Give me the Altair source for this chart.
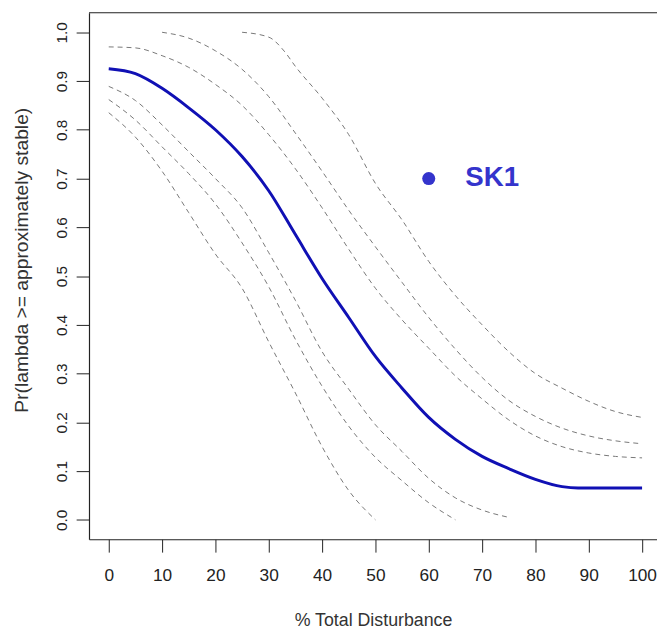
import altair as alt
import pandas as pd

# ---- data ----
mean_x = [0, 5, 10, 15, 20, 25, 30, 35, 40, 45, 50, 55, 60, 65, 70, 75, 80, 85, 88, 90, 95, 100]
mean_y = [0.925, 0.915, 0.885, 0.845, 0.80, 0.745, 0.675, 0.585, 0.495, 0.415, 0.335, 0.27, 0.21,
          0.165, 0.13, 0.105, 0.083, 0.068, 0.065, 0.065, 0.065, 0.065]

up1_x = [0, 5, 10, 15, 20, 25, 30, 35, 40, 45, 50, 55, 60, 65, 70, 75, 80, 85, 90, 95, 100]
up1_y = [0.97, 0.968, 0.952, 0.928, 0.893, 0.85, 0.79, 0.72, 0.64, 0.555, 0.475, 0.41, 0.352,
         0.295, 0.248, 0.205, 0.172, 0.15, 0.137, 0.13, 0.127]

up2_x = [10, 15, 20, 25, 30, 35, 40, 45, 50, 55, 60, 65, 70, 75, 80, 85, 90, 95, 100]
up2_y = [1.0, 0.988, 0.962, 0.924, 0.868, 0.793, 0.715, 0.635, 0.56, 0.487, 0.415, 0.35, 0.292,
         0.245, 0.212, 0.188, 0.172, 0.162, 0.156]

up3_x = [25, 30, 33, 35, 40, 45, 50, 55, 60, 65, 70, 75, 80, 85, 90, 95, 100]
up3_y = [1.0, 0.99, 0.96, 0.93, 0.865, 0.79, 0.69, 0.615, 0.53, 0.46, 0.4, 0.345, 0.3, 0.27,
         0.243, 0.222, 0.21]

lo1_x = [0, 5, 10, 15, 20, 25, 30, 35, 40, 45, 50, 55, 60, 65, 70, 75]
lo1_y = [0.889, 0.86, 0.81, 0.755, 0.70, 0.64, 0.548, 0.45, 0.345, 0.268, 0.195, 0.14, 0.085,
         0.045, 0.02, 0.005]

lo2_x = [0, 5, 10, 15, 20, 25, 30, 35, 40, 45, 50, 55, 60, 65]
lo2_y = [0.862, 0.82, 0.765, 0.71, 0.648, 0.568, 0.478, 0.37, 0.274, 0.192, 0.128, 0.08, 0.035, 0.0]

lo3_x = [0, 5, 10, 15, 20, 25, 30, 35, 40, 45, 50]
lo3_y = [0.835, 0.785, 0.715, 0.63, 0.545, 0.475, 0.365, 0.26, 0.15, 0.06, 0.0]

point_x = [60]
point_y = [0.70]
point_label = ["SK1"]

x_ticks = [0, 10, 20, 30, 40, 50, 60, 70, 80, 90, 100]
y_ticks = [0.0, 0.1, 0.2, 0.3, 0.4, 0.5, 0.6, 0.7, 0.8, 0.9, 1.0]

# ---- tables ----
def frame(name, xs, ys):
    return pd.DataFrame({"x": xs, "y": ys, "series": name})

dashed = pd.concat([
    frame("up1", up1_x, up1_y), frame("up2", up2_x, up2_y), frame("up3", up3_x, up3_y),
    frame("lo1", lo1_x, lo1_y), frame("lo2", lo2_x, lo2_y), frame("lo3", lo3_x, lo3_y),
])
mean_df = frame("mean", mean_x, mean_y)
pt_df = pd.DataFrame({"x": point_x, "y": point_y, "label": point_label})

W, H = 575, 533
xs = alt.Scale(domain=[-3.7, 102.8], nice=False, zero=False)
ys = alt.Scale(domain=[-0.04, 1.04], nice=False, zero=False)

FONT = "Liberation Sans"

x_axis = alt.Axis(
    values=x_ticks, title="% Total Disturbance", grid=False,
    tickSize=13, tickColor="#222", domainColor="#222", domainWidth=1.2,
    labelFont=FONT, labelFontSize=17.5, labelColor="#222", labelPadding=15,
    labelBaseline="top", format="d",
    titleFont=FONT, titleFontSize=18, titleFontWeight="normal", titleColor="#333",
    titleX=W / 2, titleY=82, titleBaseline="middle", titleAlign="center",
)
y_axis = alt.Axis(
    values=y_ticks, title="Pr(lambda >= approximately stable)", grid=False,
    tickSize=13, tickColor="#222", domainColor="#222", domainWidth=1.2,
    labelFont=FONT, labelFontSize=15.5, labelColor="#222", labelAngle=270,
    labelAlign="center", labelBaseline="alphabetic", labelPadding=10, format=".1f",
    titleFont=FONT, titleFontSize=19.5, titleFontWeight="normal", titleColor="#333",
    titleAngle=270, titleX=-68, titleY=250, titleBaseline="middle", titleAlign="center",
)

dash_layer = alt.Chart(dashed).mark_line(
    color="#777777", strokeWidth=1, strokeDash=[5, 4], interpolate="monotone", clip=True
).encode(
    x=alt.X("x:Q", scale=xs, axis=x_axis),
    y=alt.Y("y:Q", scale=ys, axis=y_axis),
    detail="series:N",
)

mean_layer = alt.Chart(mean_df).mark_line(
    color="#1010b4", strokeWidth=3, interpolate="monotone", clip=True
).encode(x=alt.X("x:Q", scale=xs), y=alt.Y("y:Q", scale=ys))

pt_layer = alt.Chart(pt_df).mark_circle(color="#3434cc", opacity=1, size=175).encode(
    x=alt.X("x:Q", scale=xs), y=alt.Y("y:Q", scale=ys)
)
txt_layer = alt.Chart(pt_df).mark_text(
    color="#3434cc", font=FONT, fontSize=28, fontWeight="bold", align="left",
    baseline="middle", dx=37
).encode(x=alt.X("x:Q", scale=xs), y=alt.Y("y:Q", scale=ys), text="label:N")

top_border = alt.Chart(pt_df).mark_rule(color="#222", strokeWidth=1.2).encode(
    y=alt.value(0), x=alt.value(0), x2=alt.value(W)
)

chart = alt.layer(dash_layer, mean_layer, pt_layer, txt_layer, top_border).properties(
    width=W, height=H,
    autosize=alt.AutoSizeParams(type="none"),
    padding={"left": 82, "top": 1, "right": 0, "bottom": 88},
    background="white",
).configure_view(stroke=None)

chart.save("out.html", embed_options={"renderer": "svg", "actions": False})
